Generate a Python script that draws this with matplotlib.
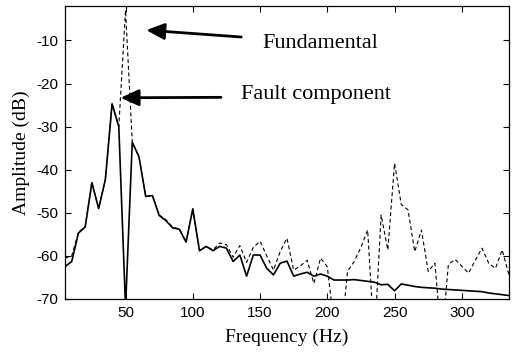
import numpy as np
import matplotlib
matplotlib.use("Agg")
import matplotlib.pyplot as plt

plt.rcParams["axes.unicode_minus"] = False

freq = [5, 10, 15, 20, 25, 30, 35, 40, 45, 50, 55, 60, 65, 70, 75, 80, 85, 90, 95, 100,
        105, 110, 115, 120, 125, 130, 135, 140, 145, 150, 155, 160, 165, 170, 175, 180,
        185, 190, 195, 200, 205, 210, 215, 220, 225, 230, 235, 240, 245, 250, 255, 260,
        265, 270, 275, 280, 285, 290, 295, 300, 305, 310, 315, 320, 325, 330, 335]

# fault component (solid)
fault = [-62.5, -61.3, -54.7, -53.3, -43.0, -49.0, -42.3, -24.7, -30.0, -72.0,
         -33.6, -37.0, -46.2, -46.0, -50.6, -51.8, -53.5, -53.8, -56.8, -49.1,
         -58.8, -57.8, -58.8, -57.8, -58.2, -61.3, -59.8, -64.7, -59.8, -59.8,
         -62.9, -64.4, -61.7, -61.2, -64.7, -64.2, -63.8, -64.7, -64.2, -64.7,
         -65.6, -65.6, -65.6, -65.5, -65.7, -65.9, -66.1, -66.7, -66.6, -68.1,
         -66.5, -66.8, -67.1, -67.3, -67.4, -67.5, -67.7, -67.8, -67.9, -68.0,
         -68.1, -68.2, -68.3, -68.6, -68.8, -69.0, -69.2]

# total signal with fundamental (dashed)
total = [-60.5, -60.0, -54.5, -53.2, -43.0, -49.0, -42.3, -24.7, -30.0, -3.0,
         -33.6, -37.0, -46.2, -46.0, -50.5, -51.6, -53.3, -53.8, -56.8, -49.1,
         -58.8, -57.8, -58.6, -57.0, -57.4, -60.3, -57.6, -61.5, -58.0, -56.6,
         -60.0, -63.3, -59.0, -55.9, -63.3, -62.3, -61.0, -66.4, -60.5, -62.5,
         -76.0, -80.0, -63.6, -61.3, -58.0, -54.0, -80.0, -50.5, -58.6, -38.5,
         -48.1, -49.3, -59.0, -54.0, -63.6, -61.7, -80.0, -62.0, -60.8, -62.4,
         -64.0, -61.0, -58.2, -61.7, -62.9, -58.6, -64.4]

xticks = [50, 100, 150, 200, 250, 300]
yticks = [-70, -60, -50, -40, -30, -20, -10]

serif = ["Liberation Serif", "DejaVu Serif"]
sans = ["Liberation Sans", "DejaVu Sans"]

fig = plt.figure(figsize=(5.13, 3.52), dpi=100)
ax = fig.add_axes([0.1267, 0.1506, 0.8653, 0.8324])

ax.plot(freq, total, color="black", lw=0.8, ls=(0, (3.5, 2.5)))
ax.plot(freq, fault, color="black", lw=1.2)

ax.set_xlim(5, 335)
ax.set_ylim(-70, -2)
ax.set_xticks(xticks)
ax.set_yticks(yticks)
ax.tick_params(direction="in", top=True, right=True, length=4, width=0.8,
               labelsize=11, pad=5)
for lab in ax.get_xticklabels() + ax.get_yticklabels():
    lab.set_family(sans)
for s in ax.spines.values():
    s.set_linewidth(0.9)

ax.set_xlabel("Frequency (Hz)", family=serif, fontsize=14, labelpad=6)
ax.set_ylabel("Amplitude (dB)", family=serif, fontsize=14, labelpad=4)

arrow = dict(arrowstyle="-|>,head_length=1.1,head_width=0.5", color="black",
             lw=2.0, shrinkA=0, shrinkB=0)
ax.annotate("", xy=(65.4, -7.6), xytext=(136, -9.2), arrowprops=arrow)
ax.annotate("", xy=(46.3, -23.3), xytext=(121, -23.2), arrowprops=arrow)
ax.text(151.5, -10.6, "Fundamental", family=serif, fontsize=16, va="center")
ax.text(135.5, -22.6, "Fault component", family=serif, fontsize=16, va="center")

fig.savefig("out.png", dpi=100)
